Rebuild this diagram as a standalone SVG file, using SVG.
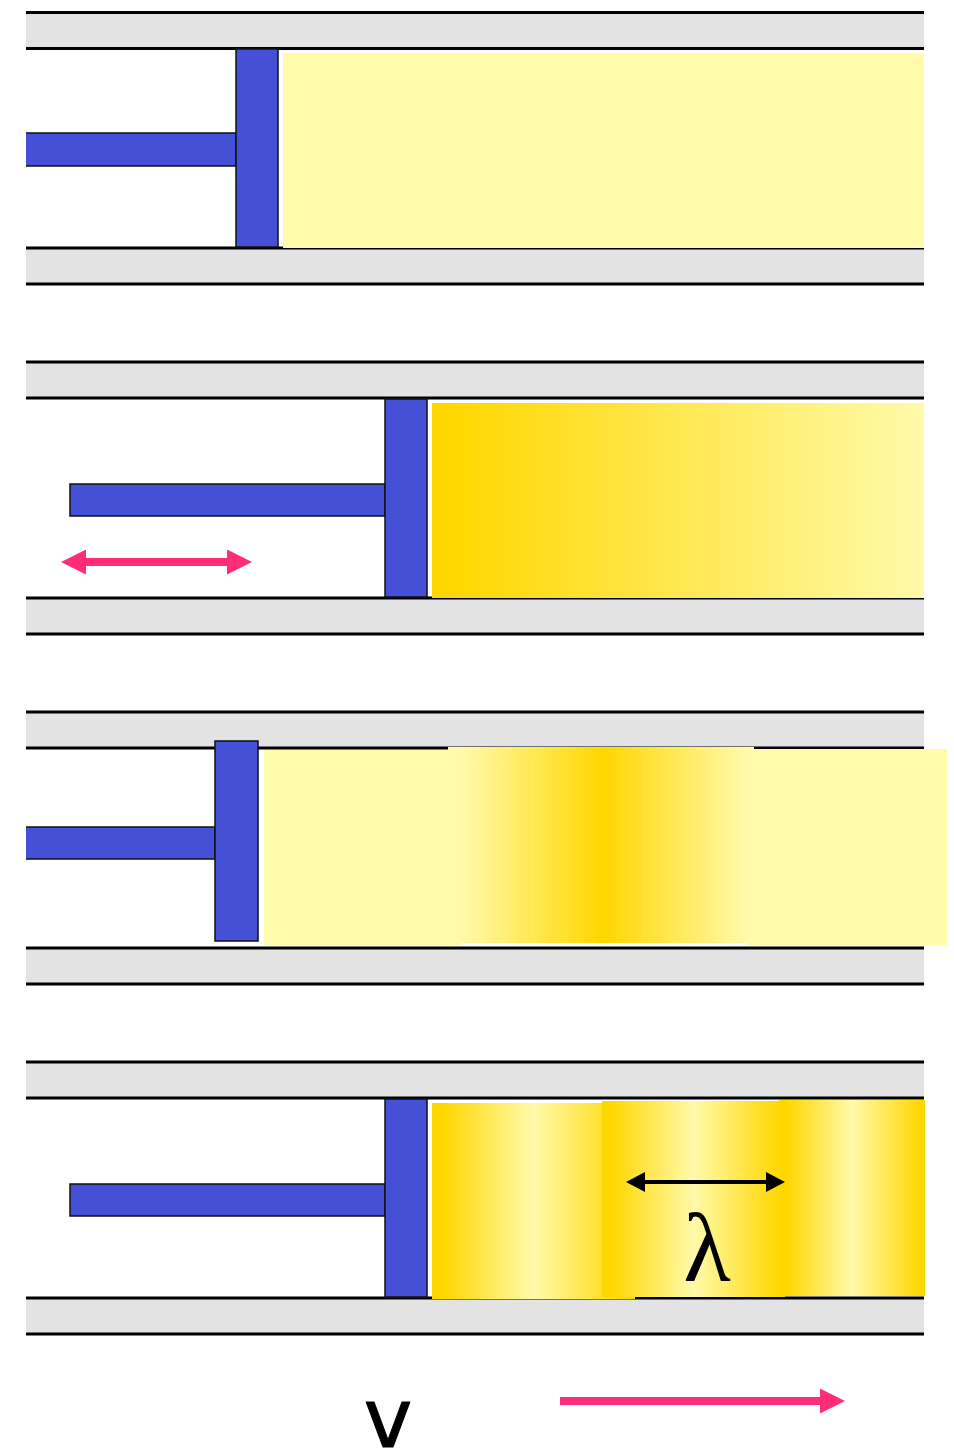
<svg xmlns="http://www.w3.org/2000/svg" width="954" height="1454" viewBox="0 0 954 1454">
  <style>
    .band { fill: #E3E3E3; }
    .wall { stroke: #000; stroke-width: 3; fill: none; }
    .piston { fill: #4450D6; stroke: #111; stroke-width: 1.5; }
    .rod { fill: #4450D6; stroke: #111; stroke-width: 1.5; }
    .light { fill: #FFFBAA; }
    .pink { stroke: #FF2D78; stroke-width: 8; fill: none; }
    .blk { stroke: #000; stroke-width: 4; fill: none; }
  </style>
  <defs>
    <linearGradient id="gradRamp" x1="0" y1="0" x2="1" y2="0">
      <stop offset="0" stop-color="#FFD700"/>
      <stop offset="0.04" stop-color="#FFD700"/>
      <stop offset="1" stop-color="#FFFAAA"/>
    </linearGradient>
    <linearGradient id="gradPulse" x1="0" y1="0" x2="1" y2="0">
      <stop offset="0" stop-color="#FFFAAA"/>
      <stop offset="0.046" stop-color="#FFFAAA"/>
      <stop offset="0.507" stop-color="#FFD700"/>
      <stop offset="0.974" stop-color="#FFFAAA"/>
      <stop offset="1" stop-color="#FFFAAA"/>
    </linearGradient>
    <linearGradient id="gradWave" x1="0" y1="0" x2="1" y2="0">
      <stop offset="0" stop-color="#FFD700"/>
      <stop offset="0.05" stop-color="#FFD700"/>
      <stop offset="0.5" stop-color="#FFFAAA"/>
      <stop offset="0.97" stop-color="#FFD700"/>
      <stop offset="1" stop-color="#FFD700"/>
    </linearGradient>
    <marker id="pinkHead" viewBox="0 0 25 25" refX="0" refY="12.5" markerUnits="userSpaceOnUse" markerWidth="25" markerHeight="25" orient="auto-start-reverse">
      <path d="M0,0 L25,12.5 L0,25 Z" fill="#FF2D78"/>
    </marker>
    <marker id="blackHead" viewBox="0 0 19 20" refX="0" refY="10" markerUnits="userSpaceOnUse" markerWidth="19" markerHeight="20" orient="auto-start-reverse">
      <path d="M0,0 L19,10 L0,20 Z" fill="#000"/>
    </marker>
  </defs>

  <!-- Tube 1: piston at rest, uniform gas -->
  <g id="tube1">
    <rect class="band" x="26" y="12.5" width="898" height="36"/>
    <rect class="band" x="26" y="248" width="898" height="36"/>
    <path class="wall" d="M26,12.5 H924 M26,48.5 H924 M26,248 H924 M26,284 H924"/>
    <rect class="light" x="283" y="53" width="641" height="195"/>
    <path class="rod" d="M26,133 H236 V166 H26"/>
    <rect class="piston" x="236" y="49" width="42" height="198"/>
  </g>

  <!-- Tube 2: piston pushed in, compressed gas -->
  <g id="tube2">
    <rect class="band" x="26" y="362" width="898" height="36"/>
    <rect class="band" x="26" y="598" width="898" height="36"/>
    <path class="wall" d="M26,362 H924 M26,398 H924 M26,598 H924 M26,634 H924"/>
    <rect fill="url(#gradRamp)" x="432" y="403" width="492" height="195"/>
    <rect class="rod" x="70" y="484" width="315" height="32"/>
    <rect class="piston" x="385" y="399" width="42" height="198"/>
  </g>

  <!-- Tube 3: piston pulled back, pulse travelling -->
  <g id="tube3">
    <rect class="band" x="26" y="712" width="898" height="36"/>
    <rect class="band" x="26" y="948" width="898" height="36"/>
    <path class="wall" d="M26,712 H924 M26,748 H924 M26,948 H924 M26,984 H924"/>
    <rect fill="url(#gradPulse)" x="448" y="747" width="306" height="196"/>
    <rect class="light" x="264" y="750" width="198" height="195"/>
    <rect class="light" x="746" y="749" width="201" height="196"/>
    <path class="rod" d="M26,827 H215 V859 H26"/>
    <rect class="piston" x="215" y="741" width="43" height="200"/>
  </g>

  <!-- Tube 4: oscillating piston, periodic wave -->
  <g id="tube4">
    <rect class="band" x="26" y="1062" width="898" height="36"/>
    <rect class="band" x="26" y="1298" width="898" height="36"/>
    <path class="wall" d="M26,1062 H924 M26,1098 H924 M26,1298 H924 M26,1334 H924"/>
    <rect fill="url(#gradWave)" x="432" y="1103" width="203" height="196"/>
    <rect fill="url(#gradWave)" x="602" y="1101" width="183" height="196"/>
    <rect fill="url(#gradWave)" x="779" y="1100" width="146" height="196"/>
    <rect class="rod" x="70" y="1184" width="315" height="32"/>
    <rect class="piston" x="385" y="1099" width="42" height="198"/>
    <text x="707" y="1281" font-family="Liberation Serif, serif" font-size="98" text-anchor="middle" fill="#000">λ</text>
  </g>

  <!-- Velocity label -->
  <g id="velocity">
    <text x="388" y="1447" font-family="DejaVu Sans, sans-serif" font-size="82" text-anchor="middle" fill="#000" stroke="#000" stroke-width="1" stroke-linejoin="round">v</text>
  </g>

  <!-- Arrows -->
  <g id="connectors">
    <path class="pink" d="M86,562 H227" marker-start="url(#pinkHead)" marker-end="url(#pinkHead)"/>
    <path class="blk" d="M645,1182 H766" marker-start="url(#blackHead)" marker-end="url(#blackHead)"/>
    <path class="pink" d="M560,1401 H820" marker-end="url(#pinkHead)"/>
  </g>
</svg>
